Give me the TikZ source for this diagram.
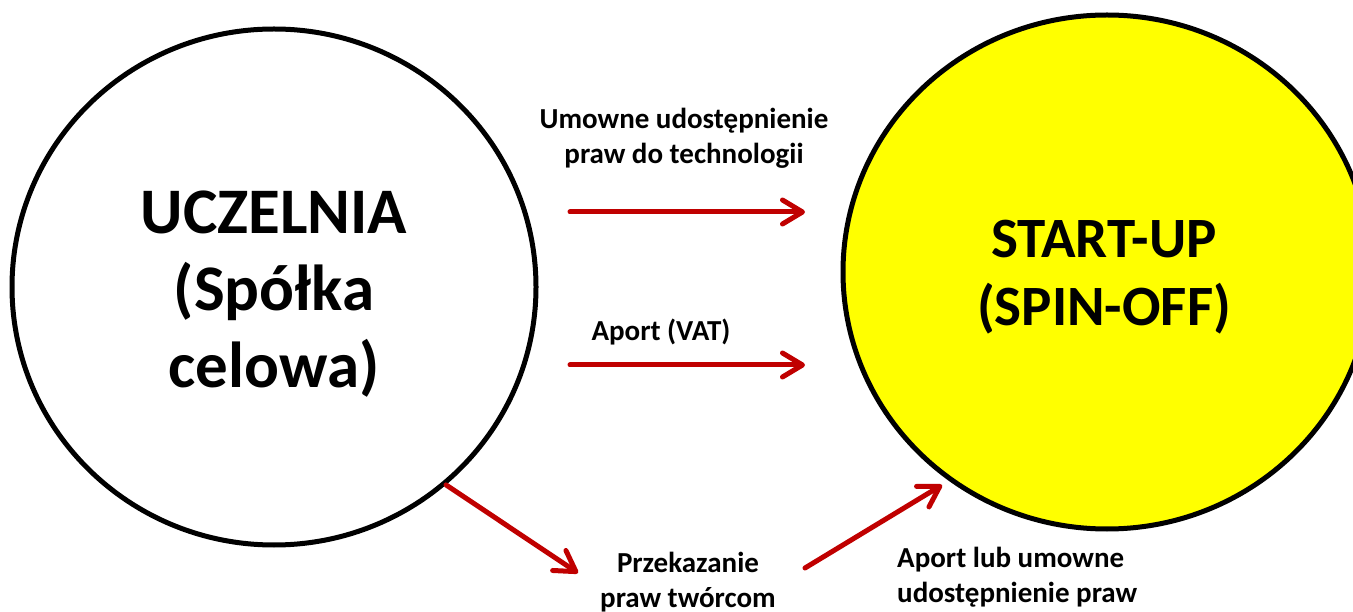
\documentclass[tikz,border=0pt]{standalone}
\usepackage{fontspec}
\setmainfont{Carlito}
\usetikzlibrary{arrows.meta,shapes.geometric}
\definecolor{arrowred}{HTML}{C00000}
\definecolor{startyellow}{HTML}{FFFF00}
\tikzset{
  bubble/.style={ellipse, draw=black, line width=5pt, inner sep=0pt},
  lbl/.style={font=\bfseries\fontsize{29}{35}\selectfont, inner sep=0pt},
  flow/.style={draw=arrowred, line width=5pt, line cap=round,
    -{Straight Barb[length=20pt, width=24pt, round]}},
}
\begin{document}
\begin{tikzpicture}[x=1pt, y=-1pt]
\useasboundingbox (0,0) rectangle (1353,612);
\clip (0,0) rectangle (1353,612);
% circles
\node[bubble, fill=white, minimum width=524pt, minimum height=516pt] (uczelnia) at (274,287) {};
\node[bubble, fill=startyellow, minimum width=528pt, minimum height=514pt] (startup) at (1107,272) {};
% big texts
\node[font=\bfseries\fontsize{65}{77}\selectfont, align=center, inner sep=0pt] (ucztext) at (274,294) {UCZELNIA\\(Spółka\\celowa)};
\node[font=\bfseries\fontsize{57}{68}\selectfont, align=center, inner sep=0pt] (starttext) at (1104,277) {START-UP\\(SPIN-OFF)};
% labels
\node[lbl, align=center] (l1) at (684,138) {Umowne udostępnienie\\praw do technologii};
\node[lbl, anchor=base] (l2) at (661,341) {Aport (VAT)};
\node[lbl, align=center] (l3) at (688,582) {Przekazanie\\praw twórcom};
\node[lbl, align=left, anchor=west] (l4) at (897,577) {Aport lub umowne\\udostępnienie praw};
% arrow ends
\coordinate (a1s) at (570,212);
\coordinate (a1e) at (805,212);
\coordinate (a2s) at (570,365);
\coordinate (a2e) at (805,365);
\coordinate (a3e) at (578,573);
\coordinate (a4s) at (805,568);
\coordinate (a4e) at (942,485);
\draw[flow] (a1s) -- (a1e);
\draw[flow] (a2s) -- (a2e);
\draw[flow] (uczelnia.-49) -- (a3e);
\draw[flow] (a4s) -- (a4e);
\end{tikzpicture}
\end{document}
